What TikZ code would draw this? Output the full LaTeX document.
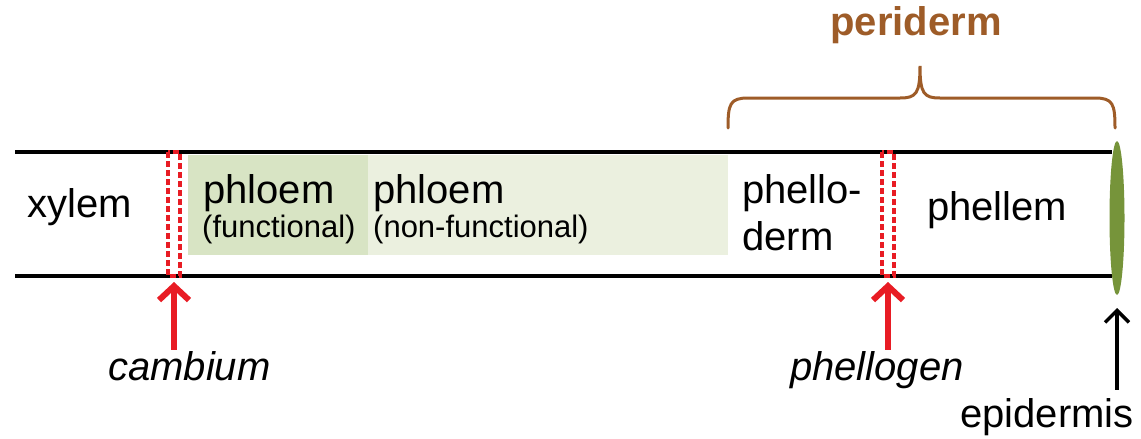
\documentclass[tikz,border=0pt]{standalone}
\usepackage{fontspec}
\setmainfont{Liberation Sans}
\usetikzlibrary{arrows.meta}
\definecolor{redc}{RGB}{232,28,36}
\definecolor{brownc}{RGB}{158,92,40}
\definecolor{greenE}{RGB}{118,148,58}
\definecolor{funcG}{RGB}{216,228,196}
\definecolor{nonfG}{RGB}{235,240,223}
\tikzset{
  big/.style={font=\fontsize{40}{46}\selectfont, inner sep=0pt, anchor=base west},
  small/.style={font=\fontsize{31}{36}\selectfont, inner sep=0pt, anchor=base west},
  bigit/.style={font=\fontsize{40}{46}\selectfont\itshape, inner sep=0pt, anchor=base west},
  layerline/.style={line width=3.5pt, black},
  meristem/.style={draw=redc, line width=3.2pt, dash pattern=on 6pt off 3pt},
  redarrow/.style={draw=redc, line width=6pt, -{Straight Barb[length=14pt,width=30pt]}},
  blackarrow/.style={draw=black, line width=3.5pt, -{Straight Barb[length=12pt,width=24pt]}}
}
\begin{document}
\begin{tikzpicture}[x=1pt,y=-1pt]
\useasboundingbox (0,0) rectangle (1141,439);
% shaded phloem zones
\fill[funcG] (188,155) rectangle (368,255);
\fill[nonfG] (368,155) rectangle (728,255);
% boundary lines
\draw[layerline] (15,152) -- (1112,152);
\draw[layerline] (15,276) -- (1112,276);
% meristems
\draw[meristem] (168,152) rectangle (180,276);
\draw[meristem] (882,152) rectangle (894,276);
\coordinate (camb) at (174,282);
\coordinate (phel) at (888,282);
% epidermis
\fill[greenE] (1117,218) ellipse [x radius=7.5, y radius=77];
\coordinate (epi) at (1117,308);
% texts
\node[big] (xylem) at (27,217) {xylem};
\node[big] (ph1) at (203,203) {phloem};
\node[small] (ph1s) at (202,237) {(functional)};
\node[big] (ph2) at (373,203) {phloem};
\node[small] (ph2s) at (373,237) {(non-functional)};
\node[big] (pd1) at (742,203) {phello-};
\node[big] (pd2) at (742,250) {derm};
\node[big] (pm) at (927,220) {phellem};
\node[bigit] (cambl) at (108,380) {cambium};
\node[bigit] (phell) at (790,380) {phellogen};
\node[big] (epil) at (960,427) {epidermis};
\node[font=\fontsize{40}{46}\selectfont\bfseries, text=brownc, inner sep=0pt, anchor=base] (peri) at (916,35) {periderm};
% brace
\draw[brownc, line width=3pt, line cap=round]
  (728,128) .. controls (728,104) and (730,98) .. (748,98)
  -- (900,98) .. controls (916,98) and (920,94) .. (920,66)
  .. controls (920,94) and (924,98) .. (940,98)
  -- (1095,98) .. controls (1113,98) and (1115,104) .. (1115,128);
% arrows
\draw[redarrow] (cambl.north -| camb) ++(0,-1) -- (camb);
\draw[redarrow] (phell.north -| phel) ++(0,-1) -- (phel);
\draw[blackarrow] (epil.north -| epi) ++(0,-8) -- (epi);
\end{tikzpicture}
\end{document}
